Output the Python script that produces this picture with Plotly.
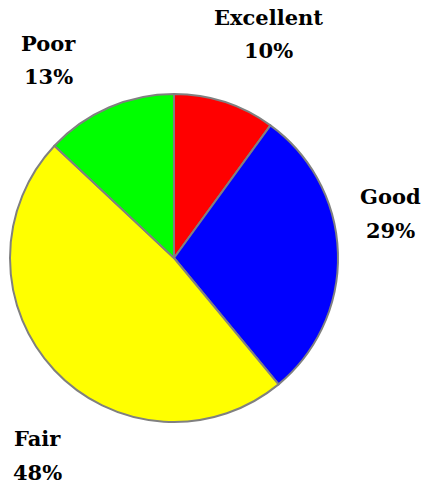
import plotly.graph_objects as go

categories = ["Excellent", "Good", "Fair", "Poor"]
values = [10, 29, 48, 13]
colors = ["#FF0000", "#0000FF", "#FFFF00", "#00FF00"]

W, H = 428, 488
# label anchor positions (pixels): name line centre / percent line centre
label_pos = {"Excellent": (268, 18, 50), "Good": (390, 196, 230),
             "Fair": (37, 438, 472), "Poor": (48, 44, 76)}

cx, cy, r = 174, 258, 164

fig = go.Figure(go.Pie(
    labels=categories,
    values=values,
    marker=dict(colors=colors, line=dict(color="#808080", width=2)),
    sort=False,
    direction="clockwise",
    rotation=0,
    textinfo="none",
    hoverinfo="label+percent",
    showlegend=False,
    domain=dict(x=[(cx - r) / W, (cx + r) / W], y=[1 - (cy + r) / H, 1 - (cy - r) / H]),
))

total = sum(values)
font = dict(family="DejaVu Serif", size=21, color="black")
for cat, v in zip(categories, values):
    px, py1, py2 = label_pos[cat]
    for txt, py in ((cat, py1), (f"{round(100 * v / total)}%", py2)):
        fig.add_annotation(
            x=px / W, y=1 - py / H, xref="paper", yref="paper",
            text=f"<b>{txt}</b>",
            showarrow=False, xanchor="center", yanchor="middle",
            font=font, align="center",
        )

fig.update_layout(
    width=W, height=H,
    margin=dict(l=0, r=0, t=0, b=0),
    paper_bgcolor="white",
    plot_bgcolor="white",
    font=dict(family="DejaVu Serif"),
)

fig.write_html("out.html", config={"displayModeBar": False},
               post_script="document.body.style.margin='0';document.body.style.overflow='hidden';")
